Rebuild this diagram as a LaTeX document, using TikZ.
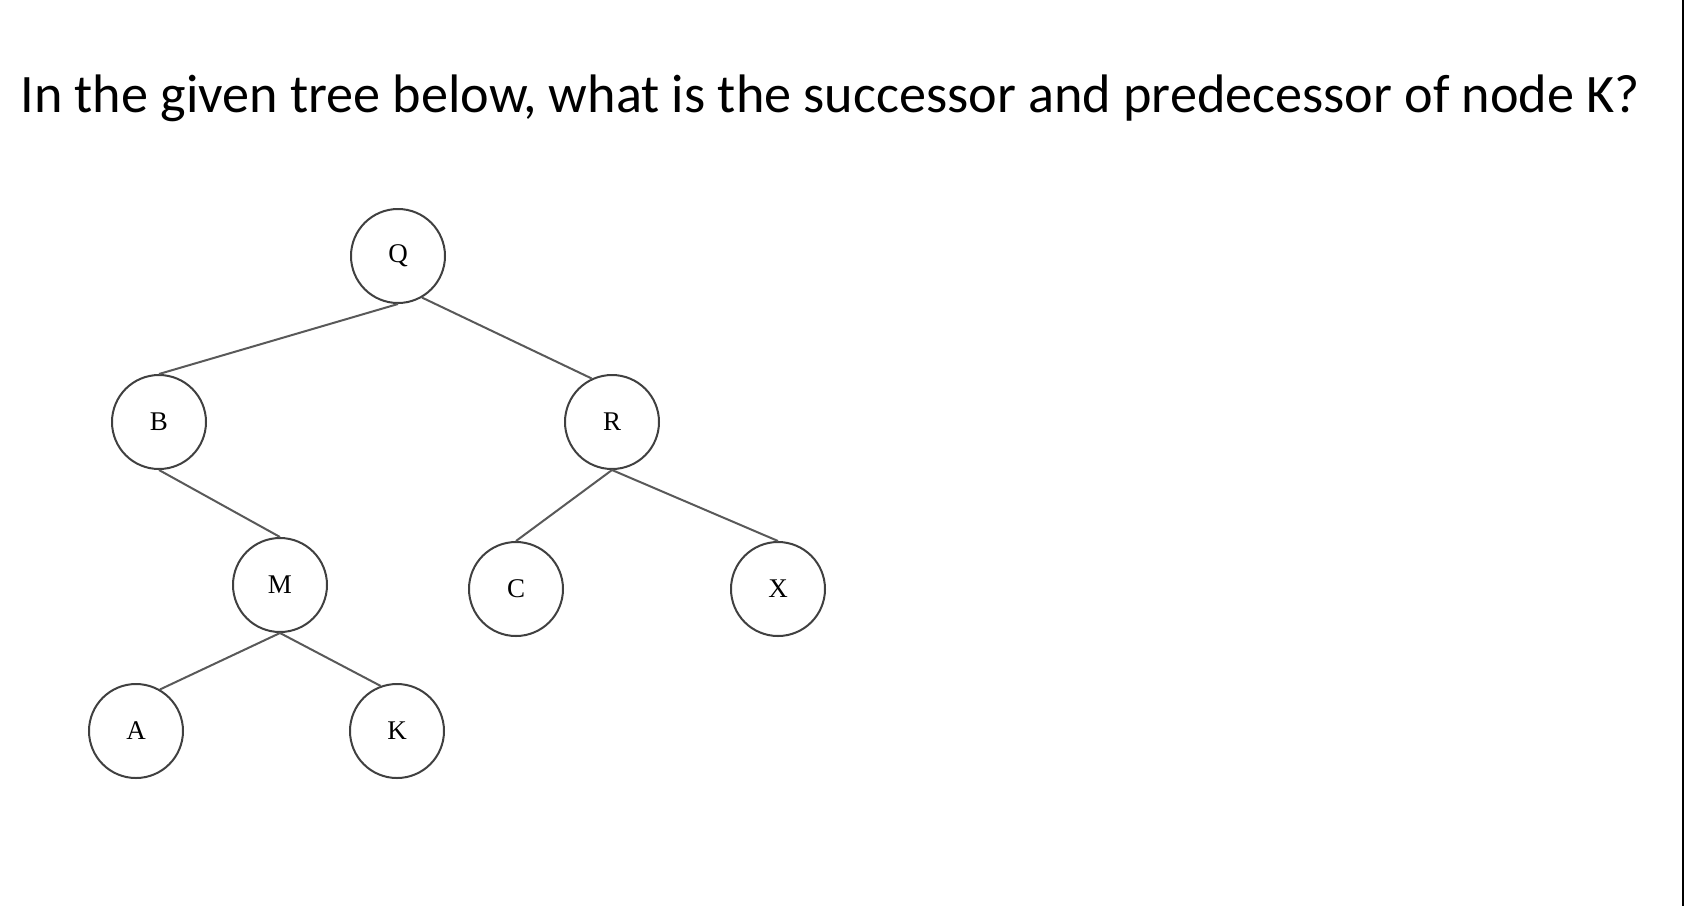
\documentclass[tikz,border=0pt]{standalone}
\usepackage{fontspec}
\setmainfont{Liberation Serif}
\newfontfamily\titlefont{Carlito}
\usetikzlibrary{positioning}

\begin{document}
\begin{tikzpicture}[x=0.5pt, y=-0.5pt, node distance=1cm,
    vertex/.style={draw=black!75, circle, line width=1pt, minimum size=47pt, inner sep=0pt, font=\fontsize{13.5}{13.5}\selectfont},
    branch/.style={draw=black!65, line width=1pt}]
        \useasboundingbox (0,0) rectangle (1686,906);

        % Question text
        \node (title) [anchor=base west, inner sep=0pt, font=\titlefont\fontsize{27.1}{27.1}\selectfont] at (20,112)
            {In the given tree below, what is the successor and predecessor of node K?};

        % Draw the tree nodes
        \node (q) [vertex] at (398,256) {Q};
        \node (b) [vertex, on grid, below left=83pt and 119.5pt of q] {B};
        \node (r) [vertex, on grid, below right=83pt and 107pt of q] {R};
        \node (m) [vertex, on grid, below right=81.5pt and 60.5pt of b] {M};
        \node (c) [vertex, on grid, below left=83.5pt and 48pt of r] {C};
        \node (x) [vertex, on grid, below right=83.5pt and 83pt of r] {X};
        \node (a) [vertex, on grid, below left=73pt and 72pt of m] {A};
        \node (k) [vertex, on grid, below right=73pt and 58.5pt of m] {K};

        % Draw the branches
        \draw [branch] (q.south) -- (b.north);
        \draw [branch] (q.-60) -- (r.115);
        \draw [branch] (b.south) -- (m.north);
        \draw [branch] (r.south) -- (c.north);
        \draw [branch] (r.south) -- (x.north);
        \draw [branch] (m.south) -- (a.60);
        \draw [branch] (m.south) -- (k.110);

        % Right edge of the frame
        \draw [line width=1.2pt] (1683,0) -- (1683,906);
    \end{tikzpicture}
\end{document}
